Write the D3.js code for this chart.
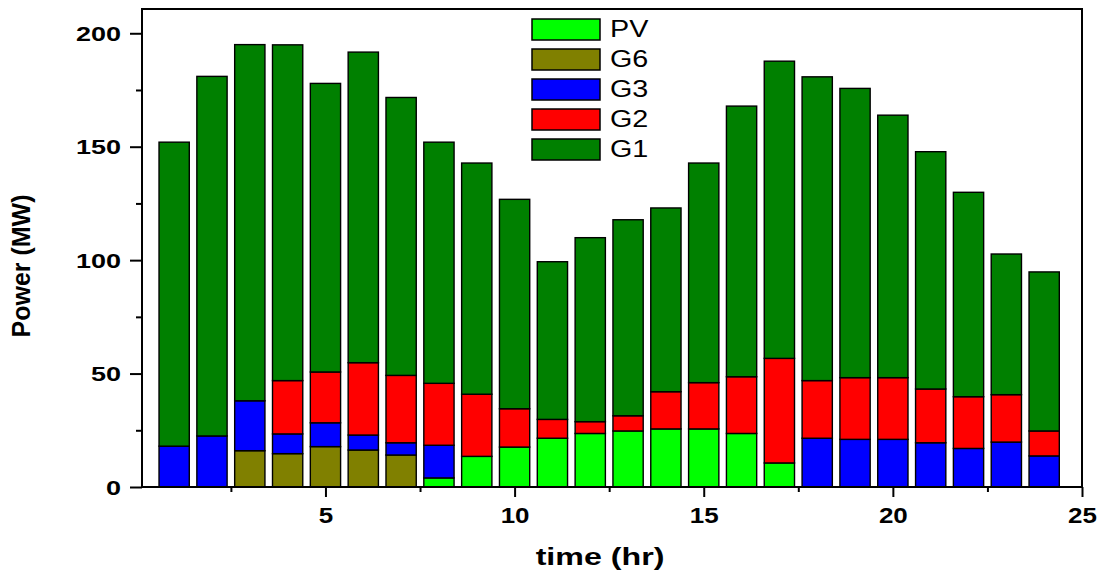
<!DOCTYPE html>
<html>
<head>
<meta charset="utf-8">
<script src="https://cdn.jsdelivr.net/npm/d3@7"></script>
<style>
  body { margin: 0; background: #fff; }
  svg { display: block; font-family: "Liberation Sans", Arial, sans-serif; }
</style>
</head>
<body>
<div id="chart"></div>
<script>
// hourly dispatch (MW)
const hours = d3.range(1, 25);
const seriesKeys = ["PV", "G6", "G3", "G2", "G1"];
const PV = [0, 0, 0, 0, 0, 0, 0, 4, 13.5, 17.6, 21.5, 23.6, 24.7, 25.6, 25.6, 23.6, 10.6, 0, 0, 0, 0, 0, 0, 0];
const G6 = [0, 0, 16, 14.7, 17.8, 16.3, 14.1, 0, 0, 0, 0, 0, 0, 0, 0, 0, 0, 0, 0, 0, 0, 0, 0, 0];
const G3 = [18, 22.5, 22, 8.7, 10.5, 6.6, 5.4, 14.4, 0, 0, 0, 0, 0, 0, 0, 0, 0, 21.5, 21, 21, 19.5, 17, 19.8, 13.7];
const G2 = [0, 0, 0, 23.5, 22.4, 31.9, 29.7, 27.3, 27.4, 16.9, 8.3, 5.2, 6.7, 16.4, 20.4, 25, 46.1, 25.4, 27.2, 27.2, 23.7, 22.8, 20.9, 11];
const G1 = [134, 158.5, 157, 148, 127.2, 136.9, 122.5, 106.3, 101.9, 92.3, 69.5, 81.1, 86.4, 81, 96.8, 119.3, 131, 133.9, 127.5, 115.7, 104.6, 90.1, 62, 70.1];
const colors = {PV: "#00ff00", G6: "#808000", G3: "#0000ff", G2: "#ff0000", G1: "#008000"};
const legendOrder = ["PV", "G6", "G3", "G2", "G1"];
const yMajor = [0, 50, 100, 150, 200];
const yMinor = [25, 75, 125, 175];
const xMajor = [5, 10, 15, 20, 25];
const xMinor = [2.5, 7.5, 12.5, 17.5, 22.5];

const W = 1106, H = 579;
const margin = {top: 9, right: 24, bottom: 92, left: 142};
const width = W - margin.left - margin.right;
const height = H - margin.top - margin.bottom;

// the picture is stretched sideways, text too
const sxTick = 1.35, sxX = 1.18, sxTitle = 1.4, sxLeg = 1.25;

const rows = hours.map((h, i) => ({hour: h, PV: PV[i], G6: G6[i], G3: G3[i], G2: G2[i], G1: G1[i]}));
const stacked = d3.stack().keys(seriesKeys)(rows);

const svg = d3.select("#chart").append("svg")
    .attr("width", W)
    .attr("height", H);
const g = svg.append("g")
    .attr("transform", "translate(" + margin.left + "," + margin.top + ")");

const xScale = d3.scaleLinear().domain([0.15, 25]).range([0, width]);
const yScale = d3.scaleLinear().domain([0, 210.7]).range([height, 0]);
const barW = xScale(0.8) - xScale(0);

// bars
g.selectAll(".layer")
    .data(stacked)
    .join("g")
    .attr("class", "layer")
    .attr("fill", d => colors[d.key])
    .selectAll("rect")
    .data(d => d.filter(s => s[1] - s[0] > 0))
    .join("rect")
    .attr("x", d => xScale(d.data.hour) - barW / 2)
    .attr("y", d => yScale(d[1]))
    .attr("width", barW)
    .attr("height", d => yScale(d[0]) - yScale(d[1]))
    .attr("stroke", "#000")
    .attr("stroke-width", 1.4);

// y axis
const yAxisG = g.append("g").attr("class", "yAxisG")
    .call(d3.axisLeft(yScale).tickValues(yMajor).tickSize(12).tickSizeOuter(0));
yAxisG.append("g")
    .call(d3.axisLeft(yScale).tickValues(yMinor).tickSize(6).tickFormat(""))
    .select(".domain").remove();
yAxisG.select(".domain").remove();
yAxisG.selectAll("line").attr("stroke", "#000").attr("stroke-width", 2);
yAxisG.selectAll(".tick text")
    .attr("x", -21 / sxTick)
    .attr("dy", "0.36em")
    .attr("transform", "scale(" + sxTick + ",1)")
    .style("font-size", "20px")
    .style("font-weight", "bold")
    .attr("fill", "#000");

// x axis
const xAxisG = g.append("g").attr("class", "xAxisG")
    .attr("transform", "translate(0," + height + ")")
    .call(d3.axisBottom(xScale).tickValues(xMajor).tickSize(10).tickSizeOuter(0));
xAxisG.append("g")
    .call(d3.axisBottom(xScale).tickValues(xMinor).tickSize(5).tickFormat(""))
    .select(".domain").remove();
xAxisG.select(".domain").remove();
xAxisG.selectAll("line").attr("stroke", "#000").attr("stroke-width", 2);
xAxisG.selectAll(".tick text")
    .attr("y", 36)
    .attr("dy", 0)
    .attr("transform", "scale(" + sxX + ",1)")
    .style("font-size", "22px")
    .style("font-weight", "bold")
    .attr("fill", "#000");

// frame
g.append("rect")
    .attr("x", 0).attr("y", 0)
    .attr("width", width).attr("height", height)
    .attr("fill", "none")
    .attr("stroke", "#000")
    .attr("stroke-width", 2);

// axis titles
svg.append("text")
    .attr("transform", "translate(600,565) scale(" + sxTitle + ",1)")
    .attr("text-anchor", "middle")
    .style("font-size", "23px")
    .style("font-weight", "bold")
    .text("time (hr)");

svg.append("text")
    .attr("transform", "translate(30,266) rotate(-90)")
    .attr("text-anchor", "middle")
    .style("font-size", "25px")
    .style("font-weight", "bold")
    .text("Power (MW)");

// legend
const legend = svg.append("g").attr("transform", "translate(532,19)");
const legItem = legend.selectAll("g")
    .data(legendOrder)
    .join("g")
    .attr("transform", (d, i) => "translate(0," + i * 30 + ")");
legItem.append("rect")
    .attr("width", 68).attr("height", 21)
    .attr("fill", d => colors[d])
    .attr("stroke", "#000")
    .attr("stroke-width", 1.5);
legItem.append("text")
    .attr("transform", "translate(78,18) scale(" + sxLeg + ",1)")
    .style("font-size", "23px")
    .text(d => d);
</script>
</body>
</html>
